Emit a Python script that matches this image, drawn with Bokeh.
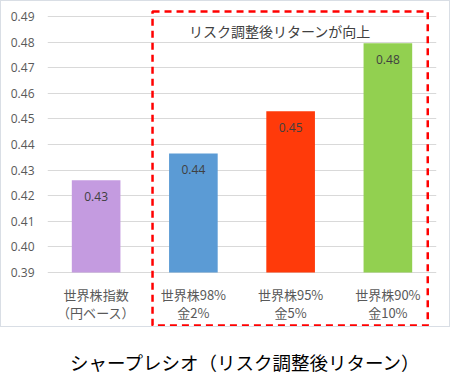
from bokeh.plotting import figure
from bokeh.models import ColumnDataSource, Range1d, FixedTicker, BoxAnnotation, Label, Div, CustomJSTickFormatter
from bokeh.layouts import column
from bokeh.embed import file_html
from bokeh.resources import INLINE
from bokeh.core.properties import value

categories = ["世界株指数", "世界株98%", "世界株95%", "世界株90%"]
category_labels = ["世界株指数\n（円ベース）", "世界株98%\n金2%", "世界株95%\n金5%", "世界株90%\n金10%"]
sharpe = [0.426, 0.4365, 0.453, 0.4795]
labels = ["0.43", "0.44", "0.45", "0.48"]
colors = ["#C49BE0", "#5B9BD5", "#FF3A0A", "#92D050"]
y_ticks = [0.39, 0.40, 0.41, 0.42, 0.43, 0.44, 0.45, 0.46, 0.47, 0.48, 0.49]
axis_min = 0.39
annotation_text = "リスク調整後リターンが向上"
chart_title = "シャープレシオ（リスク調整後リターン）"

JP = "Noto Sans CJK JP"

src = ColumnDataSource(dict(cat=categories, v=sharpe, lab=labels, col=colors,
                            cl=category_labels, base=[axis_min] * len(categories)))

# frame extends below the value axis so that the dashed box around the category labels can be drawn
p = figure(x_range=categories, y_range=Range1d(axis_min - 0.0219, 0.49 + 0.0035), width=450, height=327,
           output_backend="svg", toolbar_location=None,
           min_border_left=46, min_border_right=15, min_border_top=6, min_border_bottom=0)
p.styles = {"margin-left": "0px", "margin-top": "0px", "border": "1px solid #d9dee5"}
p.outline_line_color = None
p.background_fill_color = "white"
p.border_fill_color = "white"

p.vbar(x="cat", top="v", bottom="base", width=0.5, fill_color="col", line_color=None, source=src)
p.text(x="cat", y="v", text="lab", source=src, text_align="center", text_baseline="top",
       y_offset=12, text_font=value("Open Sans"), text_font_size="12px", text_color="#404040")
p.text(x="cat", y="base", text="cl", source=src, text_align="center", text_baseline="top",
       y_offset=13, text_font=value(JP), text_font_size="13px", text_color="#595959",
       text_line_height=0.95)

p.xaxis.visible = False
p.yaxis.ticker = FixedTicker(ticks=y_ticks)
p.yaxis.formatter = CustomJSTickFormatter(code="return tick.toFixed(2);")
p.yaxis.axis_line_color = None
p.yaxis.major_tick_line_color = None
p.yaxis.minor_tick_line_color = None
p.yaxis.major_label_text_font = "Open Sans"
p.yaxis.major_label_text_font_size = "12px"
p.yaxis.major_label_text_color = "#595959"
p.yaxis.major_label_standoff = 7

p.xgrid.grid_line_color = None
p.ygrid.grid_line_color = "#d9d9d9"
p.ygrid.grid_line_width = 1

box = BoxAnnotation(left=1.08, right=3.91, top=0.49195, bottom=0.3693,
                    fill_color=None, fill_alpha=0, line_color="#FF0000", line_alpha=1.0,
                    line_width=2.5, line_dash="7 5")
p.add_layout(box)

p.add_layout(Label(x=2.39, y=0.4845, text=annotation_text, text_align="center", text_baseline="middle",
                   text_font=JP, text_font_size="14px", text_color="#404040"))

title = Div(text=chart_title, width=450, height=40,
            styles={"margin-left": "-6px", "padding-left": "76px", "margin-top": "22px",
                    "font-family": JP, "font-size": "18.5px", "color": "#000000"})

layout = column(p, title)
open("out.html", "w").write(file_html(layout, INLINE))
